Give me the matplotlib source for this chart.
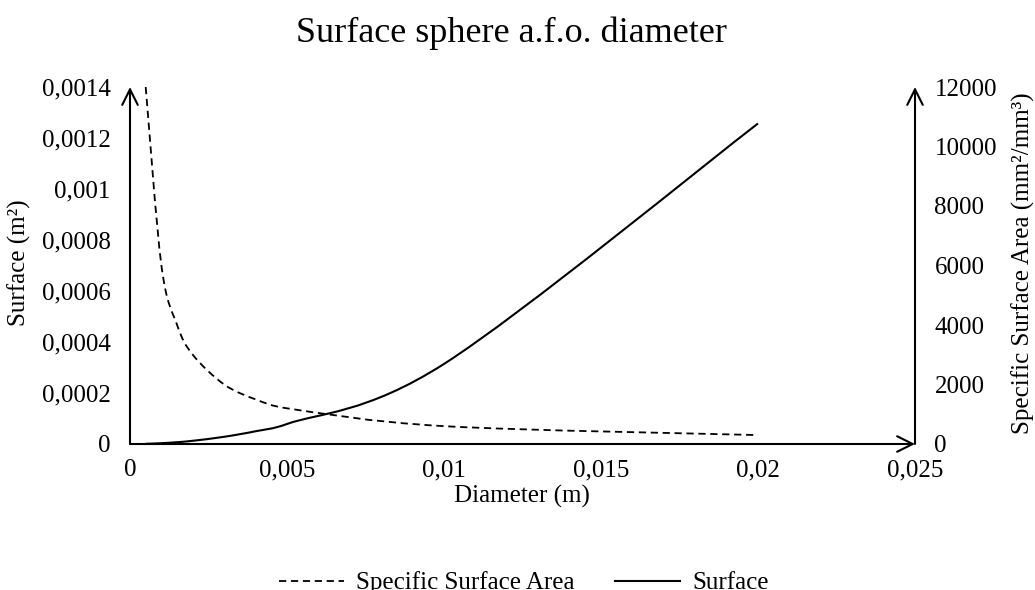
import numpy as np
import matplotlib
matplotlib.use("Agg")
import matplotlib.pyplot as plt
from matplotlib.path import Path
from matplotlib.patches import PathPatch
from matplotlib.lines import Line2D

plt.rcParams['font.family'] = ['Liberation Serif', 'DejaVu Serif']

# values
diameter = [0.0005, 0.001, 0.0015, 0.002, 0.003, 0.004, 0.005, 0.01, 0.02]
surface = [0.0000008, 0.0000031, 0.0000071, 0.0000126, 0.0000283, 0.00005,
           0.0000785, 0.000314, 0.001257]
ssa = [12000, 6000, 4000, 3000, 2000, 1500, 1200, 600, 300]

x_ticks = [0, 0.005, 0.01, 0.015, 0.02, 0.025]
x_labels = ['0', '0,005', '0,01', '0,015', '0,02', '0,025']
y_ticks = [0, 0.0002, 0.0004, 0.0006, 0.0008, 0.001, 0.0012, 0.0014]
y_labels = ['0', '0,0002', '0,0004', '0,0006', '0,0008', '0,001', '0,0012', '0,0014']
y2_ticks = [0, 2000, 4000, 6000, 8000, 10000, 12000]
y2_labels = ['0', '2000', '4000', '6000', '8000', '10000', '12000']


# excel style smoothed line: catmull-rom bezier, arms clamped so no loops appear
def smooth_path(xs, ys):
    pts = np.column_stack([xs, ys]).astype(float)
    n = len(pts)
    verts = [pts[0]]
    codes = [Path.MOVETO]
    for i in range(n - 1):
        p0 = pts[max(i - 1, 0)]
        p1 = pts[i]
        p2 = pts[i + 1]
        p3 = pts[min(i + 2, n - 1)]
        dx = p2[0] - p1[0]
        a1 = (p2 - p0) / 6.0
        a2 = (p3 - p1) / 6.0
        if a1[0] > dx / 2:
            a1 = a1 * (dx / 2) / a1[0]
        if a2[0] > dx / 2:
            a2 = a2 * (dx / 2) / a2[0]
        verts += [p1 + a1, p2 - a2, p2]
        codes += [Path.CURVE4] * 3
    return Path(verts, codes)


W, H = 1035, 590
fig = plt.figure(figsize=(W / 100, H / 100), dpi=100)
left, right, bottom, top = 130, 915, 444, 87
ax = fig.add_axes([left / W, 1 - bottom / H, (right - left) / W, (bottom - top) / H])
ax.set_xlim(0, 0.025)
ax.set_ylim(0, 0.0014)
ax2 = ax.twinx()
ax2.set_ylim(0, 12000)

for a in (ax, ax2):
    for s in a.spines.values():
        s.set_visible(False)

fs = 18
ax.set_xticks(x_ticks)
ax.set_xticklabels(x_labels, fontsize=fs)
ax.set_yticks(y_ticks)
ax.set_yticklabels(y_labels, fontsize=fs)
ax2.set_yticks(y2_ticks)
ax2.set_yticklabels(y2_labels, fontsize=fs)
ax.tick_params(axis='x', length=0, pad=11)
ax.tick_params(axis='y', length=0, pad=14)
ax2.tick_params(axis='y', length=0, pad=14)

# axis lines with open arrow heads
arrow = dict(arrowstyle='->', lw=1.5, color='black', mutation_scale=28, shrinkA=0, shrinkB=0)
ax.annotate('', xy=(0, 1.0), xytext=(0, 0), xycoords='axes fraction', arrowprops=arrow)
ax.annotate('', xy=(1.0, 0), xytext=(0, 0), xycoords='axes fraction', arrowprops=arrow)
ax.annotate('', xy=(1.0, 1.0), xytext=(1.0, 0), xycoords='axes fraction', arrowprops=arrow)

ax.add_patch(PathPatch(smooth_path(diameter, surface), fill=False, ec='black', lw=1.5))
ax2.add_patch(PathPatch(smooth_path(diameter, ssa), fill=False, ec='black', lw=1.3,
                        linestyle=(0, (4, 2.6))))

fig.text(522 / W, 1 - 496 / H, 'Diameter (m)', fontsize=fs, ha='center', va='center')
fig.text(19 / W, 1 - 263 / H, 'Surface (m²)', fontsize=fs, ha='center', va='center',
         rotation=90)
fig.text(1023 / W, 1 - 263 / H, 'Specific Surface Area (mm²/mm³)', fontsize=fs,
         ha='center', va='center', rotation=90)
fig.text(511 / W, 1 - 33 / H, 'Surface sphere a.f.o. diameter', fontsize=26,
         ha='center', va='center')

handles = [Line2D([], [], color='black', lw=1.3, linestyle=(0, (4, 2.6))),
           Line2D([], [], color='black', lw=1.5)]
fig.legend(handles, ['Specific Surface Area', 'Surface'], loc='center',
           bbox_to_anchor=(524 / W, 1 - 583 / H), ncol=2, frameon=False, fontsize=fs,
           handlelength=2.6, columnspacing=1.6, handletextpad=0.5,
           borderpad=0, borderaxespad=0)

fig.savefig('out.png', dpi=100)
